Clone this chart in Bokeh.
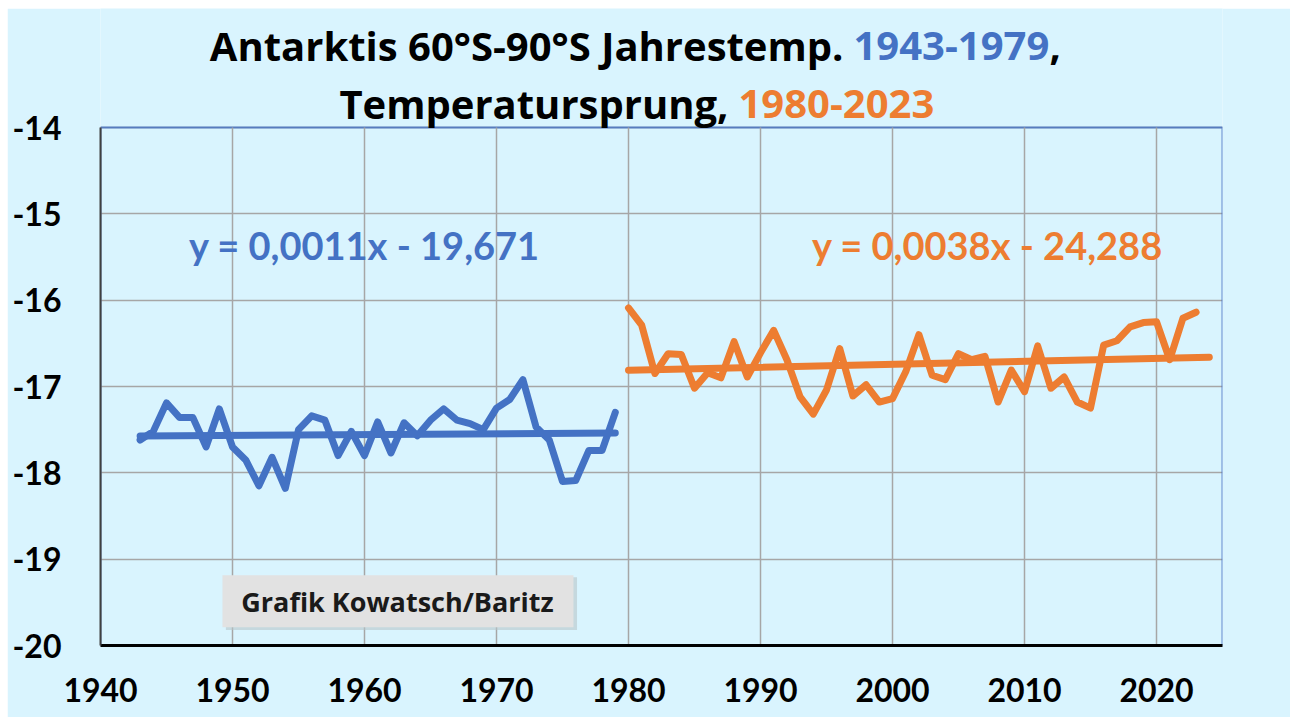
import numpy as np
from bokeh.plotting import figure
from bokeh.models import Label, BoxAnnotation, FixedTicker, Range1d
from bokeh.embed import file_html
from bokeh.resources import INLINE

# --- data ---
years_early = list(range(1943, 1980))
temps_early = [-17.62, -17.52, -17.19, -17.36, -17.36, -17.70, -17.26, -17.70, -17.85, -18.15,
               -17.82, -18.18, -17.50, -17.34, -17.39, -17.80, -17.52, -17.80, -17.41, -17.77,
               -17.42, -17.57, -17.39, -17.26, -17.39, -17.43, -17.50, -17.25, -17.15, -16.92,
               -17.47, -17.62, -18.10, -18.09, -17.74, -17.74, -17.30]
years_late = list(range(1980, 2024))
temps_late = [-16.09, -16.29, -16.85, -16.62, -16.63, -17.02, -16.84, -16.90, -16.48, -16.89,
              -16.61, -16.35, -16.69, -17.12, -17.32, -17.04, -16.56, -17.11, -16.98, -17.18,
              -17.14, -16.83, -16.40, -16.87, -16.92, -16.62, -16.69, -16.65, -17.18, -16.81,
              -17.06, -16.53, -17.02, -16.89, -17.18, -17.25, -16.52, -16.47, -16.31, -16.26,
              -16.25, -16.69, -16.21, -16.14]
trend_early_span = [1943, 1979]
trend_late_span = [1980, 2024]
x_ticks = [1940, 1950, 1960, 1970, 1980, 1990, 2000, 2010, 2020]
y_ticks = [-20, -19, -18, -17, -16, -15, -14]
y_tick_labels = ["-20", "-19", "-18", "-17", "-16", "-15", "-14"]
X_MIN, X_MAX = 1940, 2025
Y_MIN, Y_MAX = -20, -14

BLUE = "#4472C4"
ORANGE = "#ED7D31"
BG = "#D9F4FE"
FONT = "Lato"
TFONT = "Open Sans"

W, H = 1283, 709
FL, FB, PT = 93, 637, 119      # plot-area left, bottom, top (canvas px)
PX_PER_UNIT = (FB - PT) / (Y_MAX - Y_MIN)
Y_TOP = Y_MAX + PT / PX_PER_UNIT   # range extends up to the canvas top to hold the title

p = figure(width=W, height=H, output_backend="svg", toolbar_location=None,
           x_range=Range1d(X_MIN, X_MAX), y_range=Range1d(Y_MIN, Y_TOP),
           min_border_left=FL, min_border_right=68, min_border_top=0, min_border_bottom=H - FB)
p.margin = (8, 0, 0, 7)
p.background_fill_color = BG
p.border_fill_color = BG
p.outline_line_color = None

# grid: horizontal via the grid, vertical lines limited to the plot area
p.xgrid.visible = False
p.ygrid.ticker = FixedTicker(ticks=y_ticks)
p.ygrid.grid_line_color = "#A6A6A6"
p.ygrid.grid_line_width = 1.5
p.segment(x0=x_ticks, y0=[Y_MIN] * len(x_ticks), x1=x_ticks, y1=[Y_MAX] * len(x_ticks),
          line_color="#A6A6A6", line_width=1.5)

# plot-area outline (blue, as in the reference)
p.add_layout(BoxAnnotation(left=X_MIN, right=X_MAX, bottom=Y_MIN, top=Y_MAX,
                           fill_alpha=0, line_color=BLUE, line_width=2, line_alpha=0.8,
                           level="underlay"))

# axes
p.xaxis.ticker = FixedTicker(ticks=x_ticks)
p.yaxis.ticker = FixedTicker(ticks=y_ticks)
p.yaxis.bounds = (Y_MIN, Y_MAX)
p.yaxis.major_label_overrides = {t: s for t, s in zip(y_ticks, y_tick_labels)}
for ax in (p.xaxis, p.yaxis):
    ax.major_tick_line_color = None
    ax.minor_tick_line_color = None
    ax.major_label_text_font = FONT
    ax.major_label_text_font_style = "bold"
    ax.major_label_text_font_size = "32px"
    ax.major_label_text_color = "#000000"
p.xaxis.axis_line_color = "#000000"
p.xaxis.axis_line_width = 3
p.yaxis.axis_line_color = "#404040"
p.yaxis.axis_line_width = 2
p.xaxis.major_label_standoff = 26
p.yaxis.major_label_standoff = 33

# data lines
p.line(years_early, temps_early, line_color=BLUE, line_width=7, line_join="round", line_cap="round")
p.line(years_late, temps_late, line_color=ORANGE, line_width=7, line_join="round", line_cap="round")

# linear trends (least squares on the data, as Excel does)
ce = np.polyfit(years_early, temps_early, 1)
cl = np.polyfit(years_late, temps_late, 1)
p.line(trend_early_span, list(np.polyval(ce, trend_early_span)), line_color=BLUE, line_width=7, line_cap="round")
p.line(trend_late_span, list(np.polyval(cl, trend_late_span)), line_color=ORANGE, line_width=7, line_cap="round")


def lab(x, y, text, color, size, align="center", baseline="alphabetic", font=FONT):
    l = Label(x=x, y=y, text=text, text_color=color, text_font=font, text_font_style="bold",
              text_font_size=size, text_align=align, text_baseline=baseline)
    p.add_layout(l)
    return l

# equations
lab(1960.0, -15.36, "y = 0,0011x - 19,671", BLUE, "38px")
lab(2007.2, -15.36, "y = 0,0038x - 24,288", ORANGE, "38px")

# title (multi-coloured pieces), positioned in data space above the plot area
def tx(xc):
    return X_MIN + (xc - FL) * (X_MAX - X_MIN) / (W - 68 - FL)

def ty(yc):
    return Y_MAX + (PT - yc) / PX_PER_UNIT

lab(tx(836), ty(37), "Antarktis 60°S-90°S Jahrestemp.", "#000000", "40px", align="right", font=TFONT)
lab(tx(846), ty(37), "1943-1979", BLUE, "40px", align="left", font=TFONT)
lab(tx(1042), ty(37), ",", "#000000", "40px", align="left", font=TFONT)
lab(tx(721), ty(95), "Temperatursprung,", "#000000", "40px", align="right", font=TFONT)
lab(tx(731), ty(95), "1980-2023", ORANGE, "40px", align="left", font=TFONT)

# credit box
p.add_layout(BoxAnnotation(left=1949.5, right=1976.1, top=-19.21, bottom=-19.82,
                           fill_color="#B8C4C8", fill_alpha=0.6, line_color=None, level="annotation"))
p.add_layout(BoxAnnotation(left=1949.24, right=1975.83, top=-19.186, bottom=-19.789,
                           fill_color="#E2E2E2", fill_alpha=1.0, line_color=None, level="annotation"))
lab(1962.5, -19.49, "Grafik Kowatsch/Baritz", "#1A1A1A", "27px", baseline="middle", font=TFONT)

open("out.html", "w").write(file_html(p, INLINE))
